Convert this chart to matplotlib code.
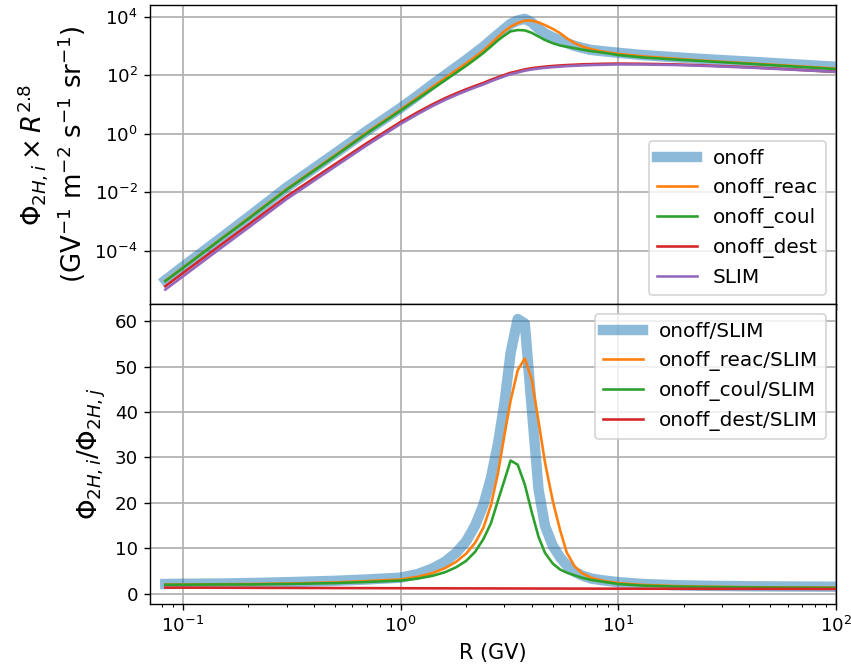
import matplotlib
matplotlib.use("Agg")
import matplotlib.pyplot as plt
import numpy as np

# Rigidity grid (GV)
rigidity = [0.083, 0.1, 0.15, 0.2, 0.3, 0.5, 0.7, 1.0, 1.2, 1.4, 1.6, 1.8, 2.0,
            2.2, 2.4, 2.6, 2.8, 3.0, 3.2, 3.45, 3.72, 4.0, 4.3, 4.6, 5.0, 5.4,
            5.8, 6.3, 6.8, 7.5, 8.5, 10, 13, 18, 25, 40, 60, 100]

# SLIM reference flux x R^2.8 (GV^-1 m^-2 s^-1 sr^-1)
slim = [4.68e-6, 1.32e-5, 1.26e-4, 6.17e-4, 5.89e-3, 7.59e-2, 0.407, 2.19,
        4.79, 8.91, 14.5, 21.4, 29.5, 38.9, 49.0, 63.1, 77.6, 93.3, 110, 126,
        145, 160, 172, 182, 192, 200, 208, 214, 220, 226, 232, 238, 236, 228,
        212, 185, 160, 132]

# Flux ratios to SLIM
ratio_onoff = [2.1, 2.15, 2.2, 2.3, 2.5, 2.8, 3.1, 3.5, 4.3, 5.5, 7.0, 9.0, 11.5,
               15.0, 19.5, 25.5, 33, 42, 53, 60.5, 59.5, 41, 23, 15, 10.5, 8.0,
               6.2, 4.8, 4.0, 3.3, 2.9, 2.5, 2.1, 1.85, 1.7, 1.6, 1.55, 1.5]
ratio_reac = [2.0, 2.0, 2.05, 2.1, 2.2, 2.45, 2.75, 3.1, 3.7, 4.5, 5.6, 7.0, 8.8,
              11.2, 14.5, 19.5, 26.5, 35, 42.5, 49.2, 51.8, 47.2, 38, 29, 20.4,
              14, 9.0, 6.0, 4.5, 3.5, 2.8, 2.3, 1.9, 1.65, 1.5, 1.4, 1.35, 1.3]
ratio_coul = [1.95, 1.95, 2.0, 2.0, 2.1, 2.3, 2.55, 2.85, 3.3, 3.9, 4.7, 5.8, 7.2,
              9.2, 12.0, 15.5, 20.5, 25.0, 29.3, 28.4, 24.0, 18.0, 12.5, 9.0,
              6.6, 5.3, 4.6, 4.0, 3.5, 3.0, 2.6, 2.1, 1.75, 1.55, 1.45, 1.35,
              1.3, 1.25]
ratio_dest = [1.3, 1.3, 1.28, 1.26, 1.24, 1.21, 1.19, 1.17, 1.16, 1.15, 1.15,
              1.14, 1.14, 1.13, 1.13, 1.13, 1.12, 1.12, 1.12, 1.11, 1.11, 1.11,
              1.1, 1.1, 1.1, 1.1, 1.09, 1.09, 1.09, 1.08, 1.08, 1.07, 1.06,
              1.05, 1.04, 1.03, 1.02, 1.0]

R = np.array(rigidity)
slim_a = np.array(slim)
onoff = slim_a * np.array(ratio_onoff)
onoff_reac = slim_a * np.array(ratio_reac)
onoff_coul = slim_a * np.array(ratio_coul)
onoff_dest = slim_a * np.array(ratio_dest)

plt.rcParams["xtick.labelsize"] = 10.5
plt.rcParams["ytick.labelsize"] = 10.5

fig, (ax1, ax2) = plt.subplots(2, 1, sharex=True, figsize=(851 / 125, 669 / 125), dpi=125)
fig.subplots_adjust(left=0.1763, right=0.9824, top=0.9925, bottom=0.0972, hspace=0)

ax1.plot(R, onoff, color="C0", lw=6, alpha=0.5, label="onoff")
ax1.plot(R, onoff_reac, color="C1", lw=1.5, label="onoff_reac")
ax1.plot(R, onoff_coul, color="C2", lw=1.5, label="onoff_coul")
ax1.plot(R, onoff_dest, color="C3", lw=1.5, label="onoff_dest")
ax1.plot(R, slim_a, color="C4", lw=1.5, label="SLIM")
ax1.set_xscale("log")
ax1.set_yscale("log")
ax1.set_ylim(10 ** -5.84, 10 ** 4.41)
ax1.grid(True, color="#b0b0b0", lw=1.0)
ax1.set_ylabel("$\\Phi_{2H,i}\\times R^{2.8}$\n(GV$^{-1}$ m$^{-2}$ s$^{-1}$ sr$^{-1}$)", fontsize=15)
ax1.legend(loc="lower right", fontsize=11.5)

ax2.plot(R, ratio_onoff, color="C0", lw=6, alpha=0.5, label="onoff/SLIM")
ax2.plot(R, ratio_reac, color="C1", lw=1.5, label="onoff_reac/SLIM")
ax2.plot(R, ratio_coul, color="C2", lw=1.5, label="onoff_coul/SLIM")
ax2.plot(R, ratio_dest, color="C3", lw=1.5, label="onoff_dest/SLIM")
ax2.set_xlim(10 ** -1.151, 100)
ax2.set_ylim(-2.3, 63.7)
ax2.grid(True, color="#b0b0b0", lw=1.0)
ax2.set_ylabel("$\\Phi_{2H,i}/\\Phi_{2H,j}$", fontsize=15)
ax2.set_xlabel("R (GV)", fontsize=12)
ax2.legend(loc="upper right", fontsize=11.5)

fig.savefig("out.png", dpi=125)
